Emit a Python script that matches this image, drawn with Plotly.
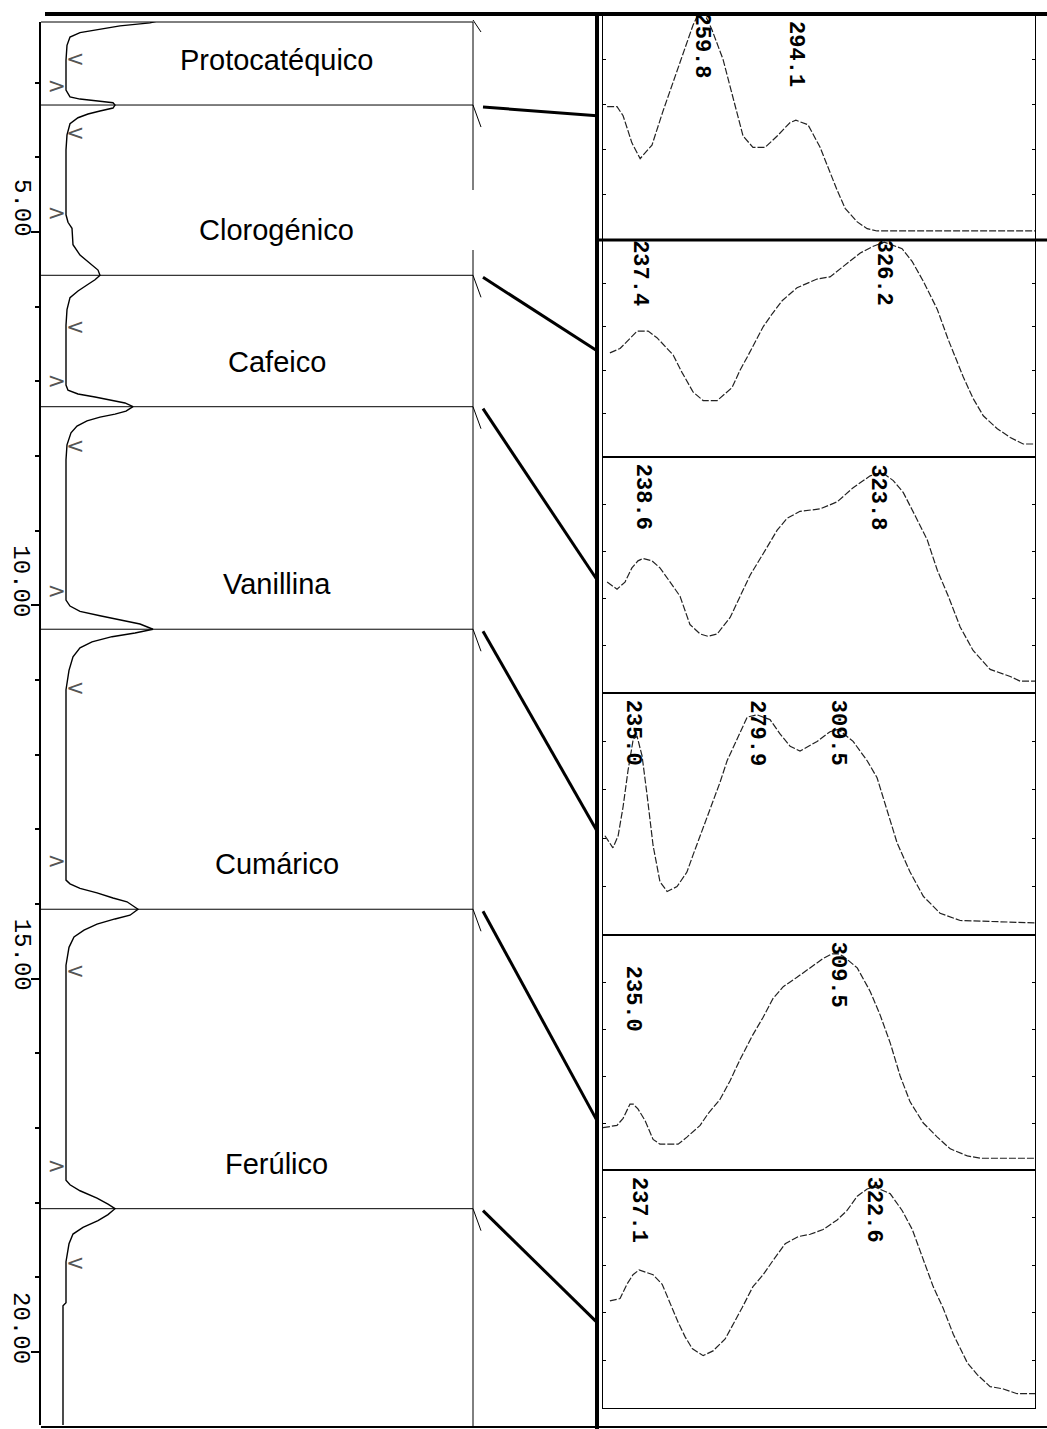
import plotly.graph_objects as go

W, H = 1047, 1429

# ---------------- data ----------------
compounds = ["Protocatéquico", "Clorogénico", "Cafeico", "Vanillina", "Cumárico", "Ferúlico"]
retention_times = [3.30, 5.58, 7.34, 10.32, 14.07, 18.08]          # min
time_ticks = [5, 10, 15, 20]
time_tick_labels = ["5.00", "10.00", "15.00", "20.00"]
minor_time_ticks = list(range(3, 21))
start_marks = [3.07, 4.77, 7.02, 9.83, 13.45, 17.53]               # integration start (min)
end_marks = [2.70, 3.70, 6.29, 7.88, 11.13, 14.92, 18.83]          # integration end (min)

chrom_time = [2.03, 2.13, 2.20, 2.24, 2.28, 2.33, 2.39, 2.50, 2.70,
              3.10, 3.19, 3.22, 3.25, 3.27, 3.30, 3.34, 3.38, 3.42, 3.47, 3.55, 3.70, 3.90,
              4.77, 4.87, 4.95, 5.17, 5.31, 5.42, 5.51, 5.58, 5.64, 5.71, 5.79, 5.88, 6.04, 6.25,
              7.05, 7.12, 7.17, 7.21, 7.25, 7.29, 7.34, 7.40, 7.44, 7.48, 7.53, 7.60, 7.69, 7.85, 8.05,
              9.93, 10.01, 10.08, 10.14, 10.20, 10.25, 10.32, 10.37, 10.42, 10.49, 10.57, 10.69, 10.87, 11.13,
              13.68, 13.73, 13.79, 13.85, 13.92, 13.97, 14.07, 14.15, 14.20, 14.27, 14.35, 14.44, 14.58, 14.82,
              17.70, 17.76, 17.84, 17.94, 18.02, 18.08, 18.16, 18.24, 18.33, 18.42, 18.55, 18.79,
              19.34, 19.38, 21.04]
chrom_signal = [268, 208, 168, 108, 68, 28, 8, 2, 0,
                0, 8, 28, 68, 94, 98, 94, 68, 44, 24, 8, 2, 0,
                0, 4, 12, 14, 28, 48, 64, 68, 58, 42, 24, 8, 2, 0,
                0, 4, 24, 58, 88, 118, 134, 120, 98, 68, 42, 22, 10, 2, 0,
                0, 8, 28, 68, 112, 148, 174, 138, 92, 52, 28, 14, 6, 0,
                0, 8, 28, 62, 94, 122, 144, 128, 98, 62, 36, 16, 6, 0,
                0, 8, 28, 62, 84, 98, 84, 64, 34, 14, 6, 0,
                0, -6, -6]

wl_protocatequico = [225.5, 229.1, 231.3, 234.5, 237.5, 241.8, 245.8, 252.0, 256.7, 259.8, 263.6, 267.6,
                     271.3, 274.9, 278.5, 282.9, 287.3, 292.0, 294.1, 298.5, 302.9, 305.8, 309.1, 312.0,
                     316.4, 320.0, 323.6, 381.0]
abs_protocatequico = [0.59, 0.59, 0.55, 0.43, 0.36, 0.42, 0.57, 0.79, 0.95, 1.03, 0.93, 0.80,
                      0.63, 0.46, 0.41, 0.41, 0.46, 0.52, 0.53, 0.51, 0.41, 0.32, 0.22, 0.14,
                      0.08, 0.05, 0.04, 0.04]

wl_clorogenico = [226.5, 230.2, 236.4, 240.4, 243.6, 249.5, 252.7, 256.7, 260.4, 265.5,
                  270.9, 273.8, 276.4, 278.5, 282.2, 285.5, 289.1, 294.5, 301.8, 306.5,
                  312.7, 317.5, 322.0, 326.2, 332.7, 336.4, 340.4, 345.5, 349.5, 352.7,
                  354.9, 358.5, 362.2, 367.3, 372.0, 376.7, 381.0]
abs_clorogenico = [0.48, 0.50, 0.58, 0.58, 0.55, 0.47, 0.39, 0.30, 0.26, 0.26,
                   0.32, 0.40, 0.46, 0.51, 0.60, 0.66, 0.72, 0.78, 0.82, 0.83,
                   0.89, 0.94, 0.97, 0.99, 0.96, 0.90, 0.81, 0.68, 0.54, 0.44,
                   0.37, 0.27, 0.19, 0.13, 0.09, 0.06, 0.06]

wl_cafeico = [225.5, 229.1, 232.0, 234.5, 236.7, 238.6, 241.8, 244.7, 248.4, 252.0,
              255.6, 259.3, 262.2, 265.5, 270.2, 273.8, 277.5, 282.2, 287.3, 290.9,
              295.6, 302.9, 309.1, 314.9, 321.1, 323.8, 326.0, 329.5, 333.1, 337.5,
              341.8, 345.5, 349.5, 353.8, 358.5, 364.7, 372.0, 375.6, 381.0]
abs_cafeico = [0.47, 0.44, 0.47, 0.53, 0.56, 0.57, 0.56, 0.53, 0.47, 0.41,
               0.29, 0.25, 0.24, 0.25, 0.32, 0.41, 0.50, 0.59, 0.69, 0.74,
               0.77, 0.78, 0.81, 0.87, 0.92, 0.93, 0.93, 0.90, 0.85, 0.75,
               0.65, 0.52, 0.41, 0.28, 0.18, 0.10, 0.07, 0.05, 0.05]

wl_vanillina = [224.7, 227.6, 229.5, 231.3, 233.1, 235.0, 236.4, 238.2, 240.0, 242.2,
                244.7, 247.3, 250.9, 254.5, 256.7, 260.0, 262.9, 266.5, 269.1, 272.7,
                276.4, 279.9, 284.7, 288.4, 292.0, 295.6, 301.8, 306.5, 309.5, 314.9,
                320.0, 323.6, 327.3, 330.9, 335.6, 340.4, 346.5, 353.8, 381.0]
abs_vanillina = [0.41, 0.36, 0.41, 0.53, 0.68, 0.81, 0.82, 0.74, 0.58, 0.37,
                 0.22, 0.18, 0.20, 0.26, 0.33, 0.43, 0.52, 0.63, 0.72, 0.81,
                 0.90, 0.91, 0.89, 0.83, 0.78, 0.76, 0.80, 0.84, 0.85, 0.80,
                 0.72, 0.65, 0.51, 0.38, 0.26, 0.16, 0.09, 0.06, 0.05]

wl_cumarico = [224.0, 229.1, 231.3, 233.8, 235.0, 236.7, 239.3, 242.2, 244.7, 251.3,
               254.5, 259.3, 262.2, 266.5, 270.2, 273.8, 278.2, 282.2, 285.8, 289.5,
               294.5, 299.3, 304.0, 307.3, 309.5, 311.3, 316.4, 321.1, 324.7, 328.4,
               332.0, 335.6, 340.4, 345.5, 350.2, 356.4, 361.1, 381.0]
abs_cumarico = [0.18, 0.19, 0.22, 0.28, 0.28, 0.26, 0.21, 0.13, 0.11, 0.11,
                0.14, 0.19, 0.24, 0.30, 0.38, 0.47, 0.57, 0.65, 0.73, 0.78,
                0.82, 0.86, 0.90, 0.92, 0.92, 0.91, 0.86, 0.76, 0.66, 0.54,
                0.40, 0.29, 0.20, 0.14, 0.09, 0.06, 0.05, 0.05]

wl_ferulico = [226.5, 230.2, 232.7, 234.9, 237.1, 242.2, 245.5, 248.4, 251.3, 253.8,
               256.4, 260.4, 264.0, 268.4, 271.3, 274.5, 278.5, 282.2, 285.8, 290.2,
               294.9, 299.3, 304.0, 309.1, 312.7, 316.4, 320.0, 322.6, 328.4, 332.7,
               336.4, 340.4, 344.0, 347.6, 351.3, 356.4, 360.0, 364.7, 369.5, 374.5, 381.0]
abs_ferulico = [0.45, 0.46, 0.52, 0.56, 0.58, 0.56, 0.52, 0.44, 0.36, 0.30,
                0.25, 0.22, 0.24, 0.29, 0.35, 0.42, 0.51, 0.56, 0.62, 0.69,
                0.72, 0.73, 0.75, 0.79, 0.83, 0.89, 0.92, 0.93, 0.90, 0.83,
                0.75, 0.62, 0.51, 0.42, 0.31, 0.19, 0.14, 0.09, 0.08, 0.06, 0.06]

peaks_protocatequico = [259.8, 294.1]
peaks_clorogenico = [237.4, 326.2]
peaks_cafeico = [238.6, 323.8]
peaks_vanillina = [235.0, 279.9, 309.5]
peaks_cumarico = [235.0, 309.5]
peaks_ferulico = [237.1, 322.6]

spectra = [
    (wl_protocatequico, abs_protocatequico, peaks_protocatequico),
    (wl_clorogenico, abs_clorogenico, peaks_clorogenico),
    (wl_cafeico, abs_cafeico, peaks_cafeico),
    (wl_vanillina, abs_vanillina, peaks_vanillina),
    (wl_cumarico, abs_cumarico, peaks_cumarico),
    (wl_ferulico, abs_ferulico, peaks_ferulico),
]

# ---------------- layout geometry (pixels) ----------------
CH_LEFT, CH_RIGHT, CH_TOP, CH_BOT = 41, 473, 22, 1425
T_TOP, T_BOT = 2.188, 20.977
SP_LEFT, SP_RIGHT = 603, 1035
panel_edges = [14, 240, 457, 693, 935, 1170, 1408]
connector_levels = [0.55, 0.49, 0.48, 0.43, 0.21, 0.36]
label_shift = {(0, 0): 4, (1, 0): 2, (1, 1): 2, (4, 0): -29}

LABEL_FONT = dict(family="Liberation Mono", size=22, color="black")


def px(x):
    return x / W


def py(y):
    return 1 - y / H


def time_to_px(t):
    return CH_TOP + (t - T_TOP) * (CH_BOT - CH_TOP) / (T_BOT - T_TOP)


fig = go.Figure()

# chromatogram
fig.add_trace(go.Scatter(x=chrom_signal, y=chrom_time, mode="lines",
                         line=dict(color="black", width=1.4),
                         xaxis="x", yaxis="y", hoverinfo="skip"))
fig.add_trace(go.Scatter(x=[0] * len(start_marks), y=start_marks, mode="text", text=[">"] * len(start_marks),
                         textposition="middle left", textfont=dict(family="DejaVu Sans", size=22, color="#555"),
                         xaxis="x", yaxis="y", hoverinfo="skip", cliponaxis=False))
fig.add_trace(go.Scatter(x=[0] * len(end_marks), y=end_marks, mode="text", text=["<"] * len(end_marks),
                         textposition="middle right", textfont=dict(family="DejaVu Sans", size=22, color="#555"),
                         xaxis="x", yaxis="y", hoverinfo="skip", cliponaxis=False))

layout = dict(
    width=W, height=H, margin=dict(l=0, r=0, t=0, b=0),
    paper_bgcolor="white", plot_bgcolor="rgba(0,0,0,0)", showlegend=False,
    xaxis=dict(domain=[px(CH_LEFT), px(CH_RIGHT)], range=[-50, 814], visible=False, anchor="y"),
    yaxis=dict(domain=[py(CH_BOT), py(CH_TOP)], range=[T_BOT, T_TOP], anchor="x",
               showline=True, linecolor="black", linewidth=1.5,
               ticks="outside", tickvals=time_ticks, ticklen=8, tickwidth=1.5, tickcolor="black",
               showticklabels=False, showgrid=False, zeroline=False,
               minor=dict(tickvals=minor_time_ticks, ticks="outside", ticklen=4, tickwidth=2, tickcolor="black")),
)

annotations = []
shapes = []

# time tick labels (rotated, sitting just above their tick)
for tv, lab in zip(time_ticks, time_tick_labels):
    annotations.append(dict(x=px(21), xref="paper", y=tv, yref="y", text=lab, showarrow=False,
                            textangle=90, xanchor="center", yanchor="middle", yshift=24,
                            font=dict(family="Liberation Mono", size=24, color="black")))

# separators and compound labels
shapes.append(dict(type="line", xref="x domain", yref="y domain", x0=0, x1=1, y0=1, y1=1,
                   line=dict(color="black", width=1)))
for name, rt in zip(compounds, retention_times):
    shapes.append(dict(type="line", xref="x domain", yref="y", x0=0, x1=1, y0=rt, y1=rt,
                       line=dict(color="black", width=1)))
    annotations.append(dict(x=0.546, xref="x domain", y=rt - 0.6, yref="y", text=name, showarrow=False,
                            font=dict(family="Liberation Sans", size=29, color="black")))

# spectra panels
for k, (wl, ab, peaks) in enumerate(spectra):
    n = k + 2
    top, bot = panel_edges[k], panel_edges[k + 1]
    fig.add_trace(go.Scatter(x=wl, y=ab, mode="lines",
                             line=dict(color="#222", width=1.2, dash="7px,2px"),
                             xaxis=f"x{n}", yaxis=f"y{n}", hoverinfo="skip"))
    layout[f"xaxis{n}"] = dict(domain=[px(SP_LEFT), px(SP_RIGHT)], range=[224, 381], anchor=f"y{n}",
                               showline=True, mirror=True, linecolor="black", linewidth=1,
                               showticklabels=False, ticks="", showgrid=False, zeroline=False)
    layout[f"yaxis{n}"] = dict(domain=[py(bot), py(top)], range=[0, 1], anchor=f"x{n}",
                               showline=True, mirror="ticks", linecolor="black", linewidth=1,
                               ticks="inside", ticklen=3, tickcolor="black", tickvals=[0.2, 0.4, 0.6, 0.8],
                               showticklabels=False, showgrid=False, zeroline=False)
    for j, p in enumerate(peaks):
        annotations.append(dict(x=p, xref=f"x{n}", y=1, yref=f"y{n}", text=f"<b>{p:.1f}</b>",
                                showarrow=False, textangle=90, xanchor="center", yanchor="top",
                                yshift=label_shift.get((k, j), -5), font=LABEL_FONT))
    # connector from the chromatogram peak to its spectrum
    y0 = time_to_px(retention_times[k]) + 2
    y1 = bot - connector_levels[k] * (bot - top)
    shapes.append(dict(type="line", xref="paper", yref="paper", x0=px(483), x1=px(597),
                       y0=py(y0), y1=py(y1), line=dict(color="black", width=3)))
    shapes.append(dict(type="line", xref="paper", yref="paper", x0=px(CH_RIGHT), x1=px(481),
                       y0=py(y0 - 2), y1=py(y0 + 20), line=dict(color="black", width=1)))

# frame lines
shapes += [
    dict(type="line", xref="paper", yref="paper", x0=px(45), x1=1, y0=py(14), y1=py(14),
         line=dict(color="black", width=4)),
    dict(type="line", xref="paper", yref="paper", x0=px(597), x1=px(597), y0=py(14), y1=0,
         line=dict(color="black", width=4)),
    dict(type="line", xref="paper", yref="paper", x0=px(597), x1=1, y0=py(240), y1=py(240),
         line=dict(color="black", width=3)),
    dict(type="line", xref="paper", yref="paper", x0=px(CH_LEFT), x1=1, y0=py(1427), y1=py(1427),
         line=dict(color="black", width=2)),
    dict(type="line", xref="paper", yref="paper", x0=px(CH_RIGHT), x1=px(CH_RIGHT), y0=py(CH_TOP), y1=py(190),
         line=dict(color="black", width=1)),
    dict(type="line", xref="paper", yref="paper", x0=px(CH_RIGHT), x1=px(CH_RIGHT), y0=py(250), y1=py(1427),
         line=dict(color="black", width=1)),
    dict(type="line", xref="paper", yref="paper", x0=px(CH_RIGHT), x1=px(481), y0=py(20), y1=py(32),
         line=dict(color="black", width=1)),
]

layout["annotations"] = annotations
layout["shapes"] = shapes
fig.update_layout(**layout)
fig.write_html("out.html")
